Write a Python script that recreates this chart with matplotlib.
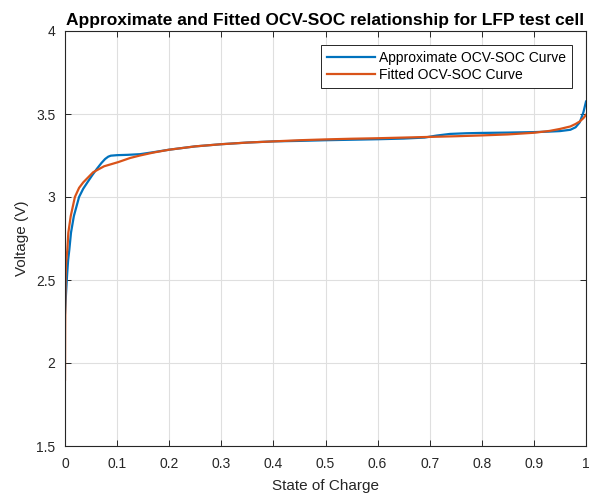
import matplotlib
matplotlib.use("Agg")
import matplotlib.pyplot as plt

# Approximate OCV-SOC curve
soc_approx = [0, 0.002, 0.004, 0.006, 0.0083, 0.0115, 0.017, 0.027, 0.035, 0.043,
              0.052, 0.061, 0.07, 0.077, 0.083, 0.088, 0.1, 0.12, 0.144, 0.17,
              0.2, 0.25, 0.3, 0.35, 0.4, 0.45, 0.5, 0.55, 0.6, 0.65,
              0.69, 0.713, 0.739, 0.77, 0.8, 0.85, 0.9, 0.93, 0.95, 0.97,
              0.98, 0.988, 0.995, 1.0]
v_approx = [2.30, 2.42, 2.53, 2.62, 2.683, 2.785, 2.885, 3.0, 3.05, 3.088,
            3.13, 3.169, 3.205, 3.229, 3.243, 3.249, 3.252, 3.254, 3.258, 3.27,
            3.285, 3.305, 3.318, 3.328, 3.335, 3.338, 3.342, 3.345, 3.348, 3.352,
            3.358, 3.370, 3.380, 3.384, 3.386, 3.388, 3.391, 3.394, 3.397, 3.405,
            3.42, 3.45, 3.51, 3.575]

# Fitted OCV-SOC curve
soc_fit = [0, 0.0003, 0.0007, 0.0012, 0.002, 0.0045, 0.0064, 0.011, 0.019, 0.027,
           0.035, 0.054, 0.075, 0.102, 0.125, 0.144, 0.17, 0.2, 0.25, 0.3,
           0.35, 0.4, 0.45, 0.5, 0.55, 0.6, 0.65, 0.7, 0.75, 0.8,
           0.85, 0.9, 0.93, 0.95, 0.97, 0.98, 0.988, 0.995, 1.0]
v_fit = [1.90, 2.2, 2.4, 2.52, 2.6, 2.683, 2.785, 2.885, 3.0, 3.055,
         3.088, 3.149, 3.185, 3.21, 3.235, 3.25, 3.268, 3.285, 3.305, 3.318,
         3.328, 3.335, 3.342, 3.347, 3.351, 3.354, 3.358, 3.362, 3.366, 3.371,
         3.377, 3.387, 3.398, 3.41, 3.425, 3.44, 3.455, 3.475, 3.495]

x_ticks = [0, 0.1, 0.2, 0.3, 0.4, 0.5, 0.6, 0.7, 0.8, 0.9, 1]
x_tick_labels = ["0", "0.1", "0.2", "0.3", "0.4", "0.5", "0.6", "0.7", "0.8", "0.9", "1"]
y_ticks = [1.5, 2, 2.5, 3, 3.5, 4]
y_tick_labels = ["1.5", "2", "2.5", "3", "3.5", "4"]

plt.rcParams['font.family'] = ['Liberation Sans', 'DejaVu Sans']

fig = plt.figure(figsize=(5.89, 4.99), dpi=100)
ax = fig.add_axes([65/589, 1-446/499, 521/589, 415/499])

ax.plot(soc_approx, v_approx, color='#0072BD', lw=1.6, label='Approximate OCV-SOC Curve')
ax.plot(soc_fit, v_fit, color='#D95319', lw=1.6, label='Fitted OCV-SOC Curve')

ax.set_xlim(0, 1)
ax.set_ylim(1.5, 4)
ax.set_xticks(x_ticks)
ax.set_xticklabels(x_tick_labels)
ax.set_yticks(y_ticks)
ax.set_yticklabels(y_tick_labels)
ax.grid(True, color='#DFDFDF', lw=0.8)
ax.set_axisbelow(True)
ax.tick_params(direction='in', top=True, right=True, length=4, width=0.7,
               colors='#262626', labelsize=10)
ax.tick_params(axis='x', pad=8)
ax.tick_params(axis='y', pad=7)
for s in ax.spines.values():
    s.set_color('#262626')
    s.set_linewidth(0.8)

ax.set_xlabel('State of Charge', fontsize=11, color='#262626', labelpad=6)
ax.set_ylabel('Voltage (V)', fontsize=11, color='#262626', labelpad=5)
ax.set_title('Approximate and Fitted OCV-SOC relationship for LFP test cell',
             fontsize=12.5, fontweight='bold', color='black', pad=4)

leg = ax.legend(loc='upper right', fontsize=10, fancybox=False, framealpha=1,
                edgecolor='#262626', handlelength=3.45, handletextpad=0.3,
                borderaxespad=1.0, labelspacing=0.22, borderpad=0.45)
leg.get_frame().set_linewidth(0.7)

fig.savefig('out.png', dpi=100)
